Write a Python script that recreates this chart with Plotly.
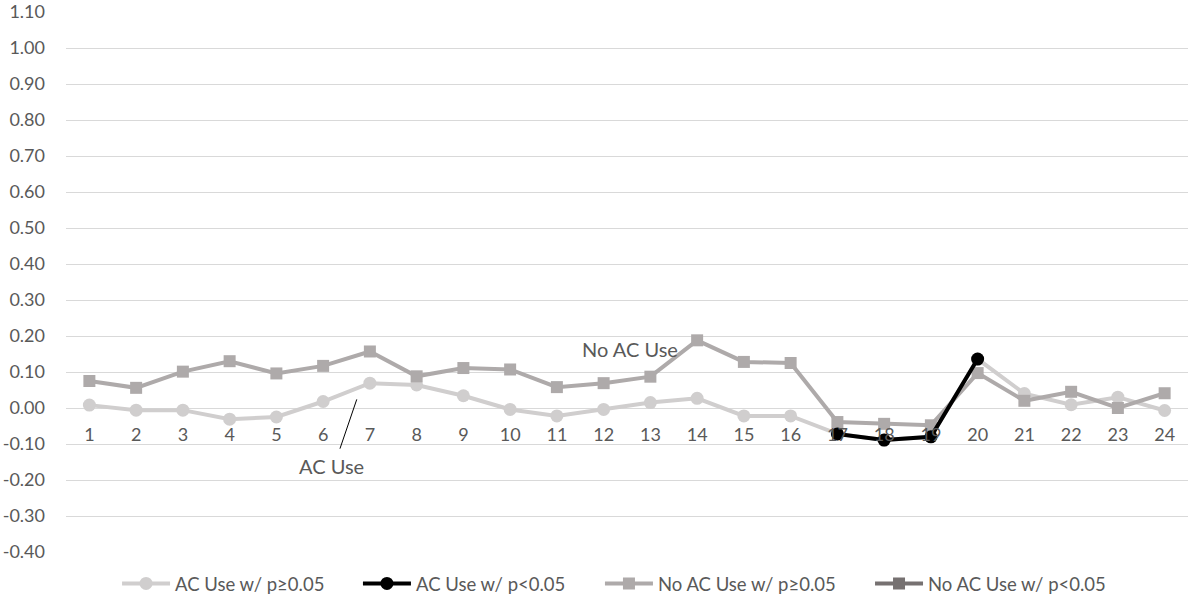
import plotly.graph_objects as go

hours = list(range(1, 25))
tick_labels = [str(h) for h in hours]

# AC Use (all points; p>=0.05 style)
ac_use = [0.008, -0.006, -0.006, -0.031, -0.025, 0.018, 0.069, 0.064, 0.034, -0.004,
          -0.022, -0.004, 0.015, 0.027, -0.022, -0.022, -0.072, -0.089, -0.080, 0.136,
          0.040, 0.009, 0.030, -0.007]
# AC Use significant (p<0.05)
ac_use_sig = [None] * 16 + [-0.072, -0.089, -0.080, 0.136] + [None] * 4
# No AC Use (p>=0.05)
no_ac_use = [0.075, 0.056, 0.101, 0.130, 0.096, 0.117, 0.157, 0.088, 0.111, 0.107,
             0.058, 0.069, 0.087, 0.188, 0.128, 0.125, -0.039, -0.044, -0.048, 0.097,
             0.020, 0.045, 0.000, 0.041]
# No AC Use significant (p<0.05) - none visible
no_ac_use_sig = [None] * 24

y_ticks = [round(-0.4 + 0.1 * i, 2) for i in range(16)]
y_tick_text = [f"{v:.2f}" for v in y_ticks]

C_AC = "#D0CECE"
C_AC_SIG = "#000000"
C_NO = "#AEAAAA"
C_NO_SIG = "#767171"
TXT = "#595959"
FONT = "Lato"
LEG_FONT = dict(family=FONT, size=18.5, color=TXT)

fig = go.Figure()
fig.add_trace(go.Scatter(x=hours, y=ac_use, name="AC Use w/ p≥0.05", mode="lines+markers",
                         line=dict(color=C_AC, width=4), marker=dict(symbol="circle", size=13, color=C_AC),
                         legend="legend", showlegend=True))
fig.add_trace(go.Scatter(x=hours, y=no_ac_use, name="No AC Use w/ p≥0.05", mode="lines+markers",
                         line=dict(color=C_NO, width=4), marker=dict(symbol="square", size=12, color=C_NO),
                         legend="legend3", showlegend=True))
fig.add_trace(go.Scatter(x=hours, y=no_ac_use_sig, name="No AC Use w/ p<0.05", mode="lines+markers",
                         line=dict(color=C_NO_SIG, width=4), marker=dict(symbol="square", size=12, color=C_NO_SIG),
                         legend="legend4", showlegend=True))
fig.add_trace(go.Scatter(x=hours, y=ac_use_sig, name="AC Use w/ p<0.05", mode="lines+markers",
                         line=dict(color=C_AC_SIG, width=4), marker=dict(symbol="circle", size=13, color=C_AC_SIG),
                         legend="legend2", showlegend=True))

fig.add_annotation(x=12.56, y=0.163, text="No AC Use", showarrow=False,
                   font=dict(family=FONT, size=20, color=TXT))
fig.add_annotation(x=6.18, y=-0.16, text="AC Use", showarrow=False,
                   font=dict(family=FONT, size=20, color=TXT))
fig.add_shape(type="line", x0=6.72, y0=0.024, x1=6.36, y1=-0.113,
              line=dict(color="#000000", width=1))

def leg(xpos):
    return dict(orientation="h", x=xpos, xanchor="left", y=-0.059, yanchor="middle",
                font=LEG_FONT, bgcolor="rgba(0,0,0,0)", borderwidth=0, visible=True,
                itemwidth=48)

fig.update_layout(
    width=1202, height=609,
    margin=dict(l=66, r=14, t=12, b=57, autoexpand=False),
    showlegend=True,
    paper_bgcolor="white", plot_bgcolor="white",
    font=dict(family=FONT, size=17, color=TXT),
    legend=leg(0.0455),
    legend2=leg(0.2602),
    legend3=leg(0.4759),
    legend4=leg(0.7166),
    xaxis=dict(range=[0.5, 24.5], tickmode="array", tickvals=hours, ticktext=tick_labels,
               showgrid=False, zeroline=False, showline=False, ticks="",
               anchor="free", position=0.4 / 1.5, ticklabelstandoff=14, automargin=False,
               tickfont=dict(family=FONT, size=18, color=TXT)),
    yaxis=dict(range=[-0.4, 1.1], tickmode="array", tickvals=y_ticks, ticktext=y_tick_text,
               showgrid=True, gridcolor="#D9D9D9", gridwidth=1, zeroline=False, showline=False,
               ticks="", ticklabelstandoff=20, domain=[0, 1], automargin=False,
               tickfont=dict(family=FONT, size=18, color=TXT)),
)

# remove the default page margin so the figure sits at the window's top-left corner
fig.write_html("out.html", config={"displayModeBar": False},
               post_script="document.body.style.margin='0';")
